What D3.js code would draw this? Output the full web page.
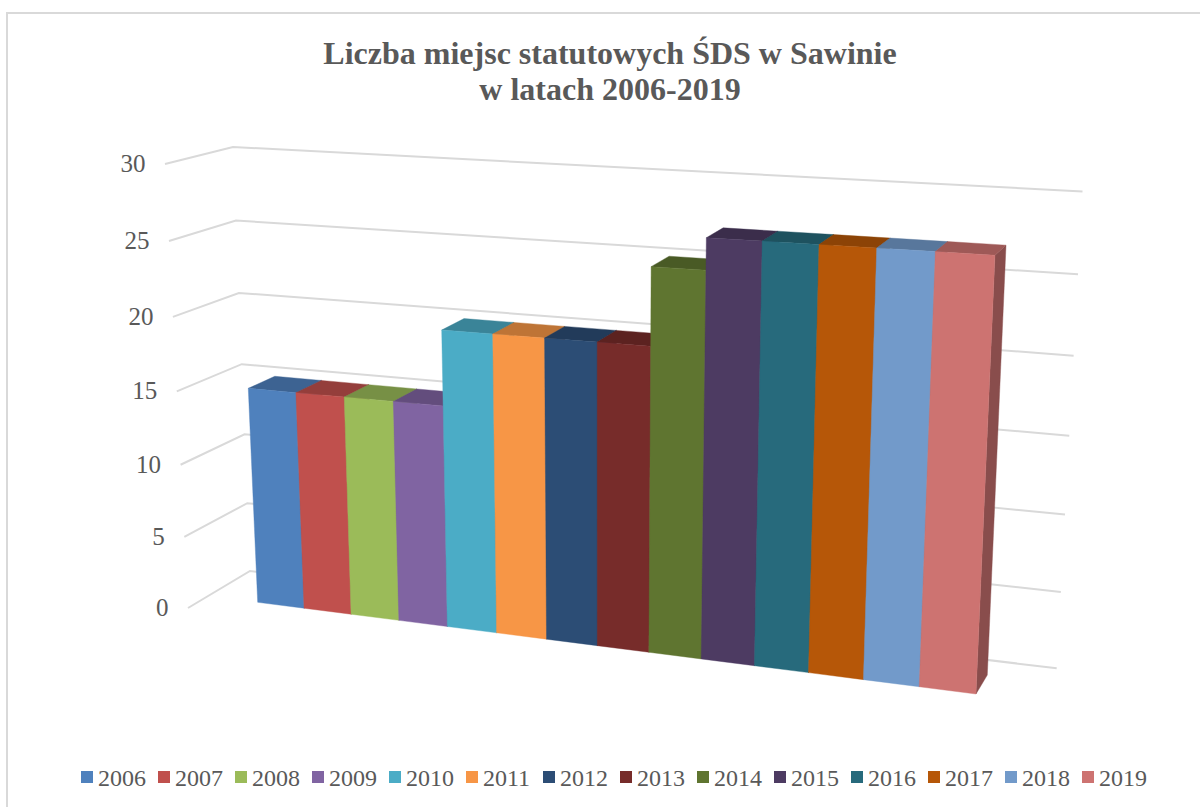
<!DOCTYPE html>
<html><head><meta charset="utf-8">
<script src="https://cdn.jsdelivr.net/npm/d3@7"></script>
<style>html,body{margin:0;padding:0;background:#fff}svg{display:block}text{font-family:"Liberation Serif","Times New Roman",serif}</style>
</head><body><svg id="c" width="1200" height="807"></svg>
<script>
const categories = ["2006","2007","2008","2009","2010","2011","2012","2013","2014","2015","2016","2017","2018","2019"];
const seriesValues = [15,15,15,15,20,20,20,20,25,27,27,27,27,27];
const seriesColors = ["#4F81BD","#C0504D","#9BBB59","#8064A2","#4BACC6","#F79646","#2C4D75","#772C2A","#5F7530","#4D3B62","#276A7C","#B65708","#729ACA","#CD7371"];
const tickValues = [0,5,10,15,20,25,30];
const titleLines = ["Liczba miejsc statutowych ŚDS w Sawinie","w latach 2006-2019"];

const svg = d3.select("#c");
svg.append("rect").attr("x",7).attr("y",13).attr("width",1300).attr("height",900)
  .attr("fill","#fff").attr("stroke","#d9d9d9").attr("stroke-width",2);

// Perspective: foreshortening along each axis, applied to linear scale output.
const persp = r => t => t/(t+(1-t)*r);
const catScale = d3.scaleBand().domain(categories).range([0,1]).padding(0);
const valScale = d3.scaleLinear().domain([0,30]).range([0,1]);
const pu = persp(1.115), pv = persp(1.05);
// plane: corners [bottomLeft, bottomRight, topLeft, topRight]
const plane = c => (t,val) => {
  const s = pu(t), v = pv(valScale(val));
  const bx=c[0][0]+(c[1][0]-c[0][0])*s, by=c[0][1]+(c[1][1]-c[0][1])*s;
  const tx=c[2][0]+(c[3][0]-c[2][0])*s, ty=c[2][1]+(c[3][1]-c[2][1])*s;
  return [bx+(tx-bx)*v, by+(ty-by)*v];
};
const front = plane([[257.7,602.3],[976,694],[238.4,163.7],[997.2,204]]);
const back  = plane([[284.7,587.3],[987.3,675],[264.4,154.7],[1008.2,195]]);
const wallBack = plane([[250,571],[1056.7,668.3],[233,147],[1082.5,191.5]]);
const wallFrontLeft = val => { const v=pv(valScale(val)); return [188+(165-188)*v, 608+(164-608)*v]; };

const line = d3.line();
const grid = svg.append("g").attr("fill","none").attr("stroke","#d9d9d9").attr("stroke-width",2);
grid.selectAll("path").data(tickValues).join("path")
  .attr("d",d=>line([wallFrontLeft(d),wallBack(0,d),wallBack(1,d)]));

svg.append("g").selectAll("text").data(tickValues).join("text")
  .attr("x",d=>wallFrontLeft(d)[0]-19.5).attr("y",d=>wallFrontLeft(d)[1]+8)
  .attr("text-anchor","end").attr("font-size",25).attr("fill","#595959")
  .text(d=>d);

const bars = svg.append("g").selectAll("g").data(categories).join("g");
bars.each(function(cat,i){
  const g=d3.select(this), v=seriesValues[i], col=d3.color(seriesColors[i]);
  const t0=catScale(cat), t1=t0+catScale.bandwidth();
  const dark=f=>d3.rgb(col.r*f,col.g*f,col.b*f).formatHex();
  g.append("path").attr("d",line([front(t1,0),back(t1,0),back(t1,v),front(t1,v)])+"Z")
    .attr("fill",dark(0.67)).attr("stroke",dark(0.67)).attr("stroke-width",0.4);
  g.append("path").attr("d",line([front(t0,v),back(t0,v),back(t1,v),front(t1,v)])+"Z")
    .attr("fill",dark(0.77)).attr("stroke",dark(0.77)).attr("stroke-width",0.4);
  g.append("path").attr("d",line([front(t0,0),front(t1,0),front(t1,v),front(t0,v)])+"Z")
    .attr("fill",seriesColors[i]).attr("stroke",seriesColors[i]).attr("stroke-width",0.4);
});

svg.append("g").selectAll("text").data(titleLines).join("text")
  .attr("x",610).attr("y",(d,i)=>64+i*36).attr("text-anchor","middle")
  .attr("font-size",32).attr("font-weight","bold").attr("fill","#595959").text(d=>d);

const legendX = d3.scalePoint().domain(categories).range([81,1082]);
const lg = svg.append("g").selectAll("g").data(categories).join("g")
  .attr("transform",d=>`translate(${legendX(d)},771)`);
lg.append("rect").attr("width",12).attr("height",12).attr("fill",(d,i)=>seriesColors[i]);
lg.append("text").attr("x",17).attr("y",15).attr("font-size",24).attr("fill","#595959").text(d=>d);
</script></body></html>
